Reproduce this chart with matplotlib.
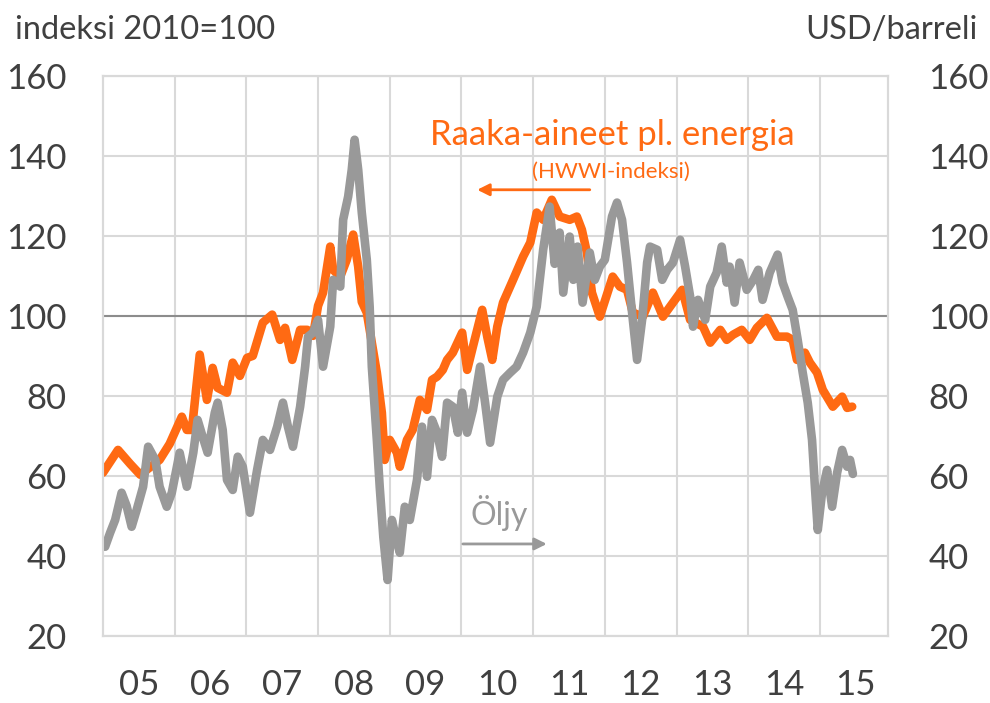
import matplotlib.pyplot as plt

# raaka-aineet pl. energia (HWWI), indeksi 2010=100
raw_years = [2005.00, 2005.21, 2005.38, 2005.52, 2005.79, 2005.93, 2006.10, 2006.17,
             2006.24, 2006.35, 2006.45, 2006.53, 2006.60, 2006.73, 2006.81, 2006.91,
             2007.01, 2007.09, 2007.23, 2007.36, 2007.47, 2007.54, 2007.64, 2007.75,
             2007.85, 2007.93, 2008.00, 2008.07, 2008.17, 2008.21, 2008.31, 2008.40,
             2008.49, 2008.56, 2008.61, 2008.68, 2008.75, 2008.82, 2008.89, 2008.93,
             2009.00, 2009.10, 2009.14, 2009.24, 2009.32, 2009.42, 2009.52, 2009.59,
             2009.66, 2009.74, 2009.80, 2009.88, 2010.01, 2010.08, 2010.16, 2010.29,
             2010.36, 2010.43, 2010.50, 2010.58, 2010.72, 2010.86, 2010.96, 2011.05,
             2011.14, 2011.26, 2011.37, 2011.51, 2011.61, 2011.68, 2011.75, 2011.82,
             2011.93, 2012.11, 2012.21, 2012.31, 2012.39, 2012.53, 2012.67, 2012.81,
             2012.91, 2013.08, 2013.19, 2013.37, 2013.47, 2013.61, 2013.70, 2013.79,
             2013.91, 2014.02, 2014.12, 2014.26, 2014.40, 2014.54, 2014.62, 2014.68,
             2014.79, 2014.86, 2014.96, 2015.04, 2015.18, 2015.31, 2015.38, 2015.45]
raw_values = [60.8, 66.5, 63.0, 60.3, 64.0, 68.0, 74.8, 71.5,
              71.5, 90.3, 79.0, 87.0, 82.0, 80.8, 88.3, 85.0,
              89.5, 90.0, 98.3, 100.3, 94.0, 97.0, 89.0, 96.5,
              96.5, 95.0, 102.5, 105.8, 117.3, 111.5, 109.8, 114.0,
              120.3, 112.3, 103.5, 100.8, 93.3, 85.8, 75.8, 64.0,
              69.0, 65.8, 62.3, 69.0, 71.5, 79.0, 76.5, 84.0,
              84.8, 86.5, 89.0, 90.8, 95.8, 86.5, 92.3, 101.5,
              94.8, 89.0, 97.3, 103.3, 109.0, 114.8, 118.3, 125.8,
              124.0, 129.0, 124.8, 124.0, 124.8, 121.5, 115.8, 105.8,
              99.8, 109.8, 107.3, 106.5, 100.8, 99.8, 105.8, 99.8,
              102.3, 106.5, 99.0, 97.3, 93.3, 96.5, 94.0, 95.3,
              96.5, 94.0, 97.0, 99.5, 94.8, 94.8, 94.0, 89.0,
              90.8, 88.3, 85.8, 81.5, 77.3, 79.8, 77.0, 77.3]

# öljy, USD/barreli
oil_years = [2005.03, 2005.10, 2005.17, 2005.26, 2005.33, 2005.40, 2005.47, 2005.56,
             2005.63, 2005.73, 2005.79, 2005.89, 2005.96, 2006.07, 2006.17, 2006.26,
             2006.32, 2006.39, 2006.46, 2006.56, 2006.60, 2006.67, 2006.73, 2006.81,
             2006.88, 2006.95, 2007.05, 2007.15, 2007.23, 2007.33, 2007.43, 2007.51,
             2007.58, 2007.65, 2007.75, 2007.82, 2007.86, 2007.93, 2008.00, 2008.07,
             2008.17, 2008.21, 2008.31, 2008.35, 2008.42, 2008.47, 2008.51, 2008.56,
             2008.61, 2008.68, 2008.72, 2008.75, 2008.82, 2008.86, 2008.91, 2008.97,
             2009.03, 2009.07, 2009.14, 2009.21, 2009.28, 2009.38, 2009.45, 2009.52,
             2009.59, 2009.66, 2009.73, 2009.80, 2009.88, 2009.95, 2010.01, 2010.08,
             2010.16, 2010.26, 2010.33, 2010.40, 2010.50, 2010.58, 2010.68, 2010.77,
             2010.86, 2010.96, 2011.05, 2011.14, 2011.23, 2011.30, 2011.37, 2011.42,
             2011.51, 2011.56, 2011.62, 2011.69, 2011.79, 2011.86, 2011.93, 2012.00,
             2012.10, 2012.17, 2012.24, 2012.31, 2012.38, 2012.45, 2012.52, 2012.59,
             2012.63, 2012.73, 2012.80, 2012.87, 2012.95, 2013.05, 2013.12, 2013.19,
             2013.23, 2013.30, 2013.40, 2013.47, 2013.56, 2013.63, 2013.70, 2013.74,
             2013.81, 2013.88, 2013.98, 2014.07, 2014.14, 2014.20, 2014.30, 2014.41,
             2014.48, 2014.55, 2014.62, 2014.69, 2014.76, 2014.83, 2014.89, 2014.93,
             2014.97, 2015.03, 2015.10, 2015.17, 2015.24, 2015.31, 2015.38, 2015.42,
             2015.46]
oil_values = [42.3, 45.8, 49.0, 55.8, 52.5, 47.3, 51.5, 57.3,
              67.3, 64.0, 57.3, 52.3, 55.8, 65.8, 57.3, 65.8,
              74.0, 69.8, 65.8, 75.8, 78.3, 71.5, 59.0, 56.5,
              64.8, 62.3, 50.8, 61.5, 69.0, 66.5, 72.3, 78.3,
              72.3, 67.3, 77.3, 87.3, 94.8, 95.8, 99.0, 87.3,
              97.3, 109.0, 107.3, 124.0, 129.8, 136.5, 144.0, 136.5,
              125.8, 114.0, 102.3, 87.3, 69.0, 57.3, 44.8, 34.0,
              49.0, 45.8, 40.8, 52.3, 49.0, 59.0, 72.3, 59.8,
              74.0, 70.8, 64.8, 78.3, 77.3, 70.8, 80.8, 70.8,
              76.5, 87.3, 78.3, 68.3, 79.8, 84.0, 85.8, 87.3,
              90.8, 95.8, 102.3, 116.5, 127.3, 113.0, 120.8, 105.8,
              119.8, 109.0, 117.3, 103.3, 115.8, 109.0, 112.3, 114.0,
              124.8, 128.3, 124.0, 113.3, 100.8, 89.0, 99.0, 113.3,
              117.3, 116.5, 109.0, 111.5, 113.3, 119.0, 112.3, 104.8,
              97.3, 104.0, 99.0, 107.3, 110.8, 117.3, 108.3, 112.3,
              103.3, 113.3, 106.5, 109.0, 111.5, 104.0, 110.8, 115.3,
              108.3, 104.8, 101.5, 94.0, 85.8, 78.3, 69.0, 57.3,
              46.5, 55.8, 61.5, 52.3, 60.8, 66.5, 62.3, 64.0,
              60.5]

year_labels = ["05", "06", "07", "08", "09", "10", "11", "12", "13", "14", "15"]
y_ticks = [20, 40, 60, 80, 100, 120, 140, 160]

ORANGE = "#FF6A13"
GRAY = "#999999"
TEXT = "#404040"
GRID = "#D9D9D9"

plt.rcParams["font.family"] = ["Lato", "DejaVu Sans"]

fig = plt.figure(figsize=(9.9, 7.03), dpi=100)
ax = fig.add_axes([0.104, 0.0953, 0.793, 0.797])
ax2 = ax.twinx()

ax.plot(raw_years, raw_values, color=ORANGE, lw=6.2,
        solid_joinstyle="round", solid_capstyle="round")
ax2.plot(oil_years, oil_values, color=GRAY, lw=6.2,
         solid_joinstyle="round", solid_capstyle="round")

for a in (ax, ax2):
    a.set_xlim(2005.0, 2015.95)
    a.set_ylim(20, 160)
    a.set_yticks(y_ticks)
    for s in a.spines.values():
        s.set_color(GRID)
        s.set_linewidth(1.5)

ax.tick_params(axis="y", length=0, pad=26, labelsize=25, labelcolor=TEXT)
ax2.tick_params(axis="y", length=0, pad=29, labelsize=25, labelcolor=TEXT)

# year labels in the middle of each year, grid on year boundaries
ax.set_xticks([2005.5 + i for i in range(len(year_labels))])
ax.set_xticklabels(year_labels)
ax.set_xticks([2006 + i for i in range(10)], minor=True)
ax.tick_params(axis="x", which="both", length=0, pad=24, labelsize=25, labelcolor=TEXT)
ax.grid(False)
ax.grid(True, which="minor", axis="x", color=GRID, lw=1.5)
ax.grid(True, which="major", axis="y", color=GRID, lw=1.5)
ax.set_axisbelow(True)
ax.axhline(100, color="#8C8C8C", lw=1.5, zorder=1)

# labels
fig.text(0.015, 0.958, "indeksi 2010=100", fontsize=23.5, color=TEXT, va="center", ha="left")
fig.text(0.988, 0.958, "USD/barreli", fontsize=23.5, color=TEXT, va="center", ha="right")

ax2.text(2012.10, 142.8, "Raaka-aineet pl. energia", color=ORANGE, fontsize=25,
         ha="center", va="baseline")
ax2.text(2012.09, 134.5, "(HWWI-indeksi)", color=ORANGE, fontsize=16,
         ha="center", va="baseline")
ax2.annotate("", xy=(2010.22, 131.5), xytext=(2011.79, 131.5),
             arrowprops=dict(arrowstyle="-|>", color=ORANGE, lw=2,
                             mutation_scale=18, shrinkA=0, shrinkB=0))

ax2.text(2010.12, 47.8, "Öljy", color=GRAY, fontsize=23, ha="left", va="baseline")
ax2.annotate("", xy=(2011.19, 43), xytext=(2010.02, 43),
             arrowprops=dict(arrowstyle="-|>", color=GRAY, lw=2,
                             mutation_scale=18, shrinkA=0, shrinkB=0))

fig.savefig("out.png", dpi=100)
